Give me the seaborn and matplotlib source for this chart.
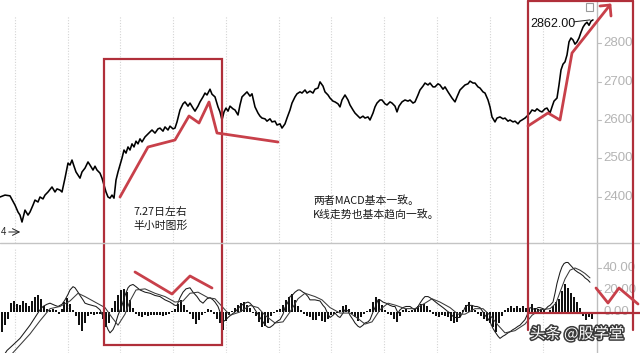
import matplotlib
matplotlib.use("Agg")
import matplotlib.pyplot as plt
import seaborn as sns
from matplotlib.patches import Rectangle
import matplotlib.patheffects as pe

sns.set_theme(style="white")
plt.rcParams['font.family'] = ['Noto Sans CJK SC', 'DejaVu Sans']

# ---------------- data ----------------
bar_idx = [0, 5, 10, 15, 18, 20, 22, 25, 28, 30,
           33, 35, 38, 40, 43, 45, 48, 52, 55, 57,
           60, 62, 65, 67, 68, 70, 72, 74, 76, 78,
           80, 82, 85, 88, 90, 93, 95, 97, 100, 102,
           104, 106, 108, 110, 112, 114, 116, 118, 120, 122,
           124, 126, 128, 130, 132, 134, 136, 138, 140, 142,
           145, 148, 150, 152, 155, 158, 160, 163, 165, 168,
           170, 173, 175, 177, 180, 183, 185, 188, 190, 193,
           195, 198, 200, 203, 205, 207, 210, 212, 215, 218,
           220, 222, 224, 226, 228, 230, 233, 235, 238, 240,
           242, 245, 247, 250, 252, 255, 258, 260, 262, 265,
           267, 270, 272, 275, 277, 280, 282, 285, 287, 290,
           292, 295, 297, 300, 302, 305, 307, 310, 313, 315,
           318, 320, 323, 325, 328, 330, 333, 335, 338, 340,
           342, 345, 348, 350, 353, 355, 358, 360, 363, 365,
           368, 370, 373, 375, 377, 380, 382, 385, 387, 390,
           392, 395, 397, 399, 402, 405, 408, 410, 413, 415,
           418, 420, 423, 425, 428, 430, 433, 435, 438, 440,
           443, 445, 448, 450, 452, 455, 457, 460, 463, 465,
           468, 470, 473, 475, 478, 480, 483, 485, 488, 490,
           492, 495, 497, 500, 503, 505, 508, 510, 513, 515,
           518, 520, 522, 525, 527, 530, 532, 535, 537, 540,
           542, 545, 547, 550, 552, 554, 557, 559, 561, 563,
           565, 567, 569, 571, 573, 575, 577, 579, 581, 583,
           585, 587, 589, 591, 593]
close = [2400, 2405, 2403, 2379, 2361, 2353, 2335, 2366, 2353, 2361,
         2379, 2392, 2387, 2400, 2395, 2405, 2413, 2426, 2413, 2421,
         2418, 2413, 2449, 2475, 2488, 2483, 2496, 2480, 2465, 2457,
         2449, 2465, 2475, 2491, 2483, 2470, 2480, 2470, 2462, 2449,
         2431, 2413, 2400, 2397, 2405, 2397, 2444, 2465, 2483, 2501,
         2522, 2514, 2530, 2522, 2538, 2530, 2545, 2538, 2551, 2543,
         2556, 2564, 2569, 2574, 2566, 2577, 2579, 2571, 2582, 2574,
         2584, 2577, 2579, 2595, 2626, 2642, 2647, 2636, 2644, 2631,
         2623, 2636, 2647, 2660, 2670, 2665, 2680, 2667, 2660, 2634,
         2621, 2600, 2621, 2631, 2623, 2636, 2629, 2626, 2613, 2639,
         2660, 2668, 2673, 2662, 2668, 2634, 2618, 2610, 2605, 2603,
         2597, 2603, 2595, 2597, 2587, 2590, 2579, 2590, 2605, 2626,
         2644, 2660, 2668, 2673, 2670, 2678, 2670, 2675, 2670, 2680,
         2683, 2699, 2688, 2673, 2665, 2657, 2649, 2647, 2642, 2634,
         2652, 2665, 2652, 2639, 2626, 2618, 2610, 2605, 2610, 2605,
         2608, 2600, 2618, 2634, 2644, 2652, 2652, 2642, 2639, 2647,
         2644, 2636, 2621, 2636, 2647, 2652, 2649, 2652, 2644, 2647,
         2665, 2678, 2688, 2696, 2691, 2696, 2686, 2686, 2694, 2691,
         2680, 2686, 2673, 2665, 2657, 2647, 2660, 2678, 2686, 2691,
         2694, 2701, 2696, 2696, 2686, 2683, 2673, 2670, 2652, 2634,
         2608, 2595, 2605, 2608, 2603, 2605, 2597, 2600, 2595, 2597,
         2590, 2597, 2600, 2605, 2610, 2618, 2626, 2623, 2629, 2623,
         2621, 2629, 2631, 2618, 2634, 2649, 2657, 2691, 2730, 2745,
         2751, 2769, 2803, 2813, 2808, 2797, 2803, 2813, 2828, 2841,
         2849, 2854, 2846, 2857, 2860]

dif_idx = [0, 7, 13, 20, 25, 30, 35, 40, 43, 47,
           50, 55, 58, 62, 65, 68, 70, 73, 75, 78,
           80, 83, 85, 88, 92, 96, 100, 103, 105, 108,
           110, 113, 115, 118, 122, 125, 128, 130, 133, 136,
           140, 145, 150, 155, 160, 165, 170, 175, 177, 180,
           183, 186, 190, 193, 197, 200, 203, 207, 210, 213,
           215, 218, 220, 223, 226, 228, 232, 235, 238, 240,
           243, 245, 248, 250, 253, 255, 258, 260, 263, 265,
           268, 270, 273, 275, 278, 280, 283, 285, 288, 290,
           293, 295, 298, 300, 303, 305, 308, 310, 315, 320,
           323, 325, 328, 330, 333, 335, 338, 340, 343, 345,
           348, 350, 353, 355, 358, 360, 363, 365, 368, 370,
           373, 375, 378, 380, 383, 386, 390, 393, 395, 398,
           400, 403, 406, 410, 413, 415, 418, 420, 423, 425,
           428, 430, 433, 437, 440, 443, 447, 450, 453, 455,
           458, 460, 463, 465, 467, 470, 472, 475, 477, 480,
           483, 485, 488, 490, 493, 495, 498, 500, 503, 505,
           508, 510, 513, 515, 518, 520, 523, 525, 528, 530,
           533, 535, 538, 540, 543, 545, 548, 550, 553, 555,
           557, 560, 562, 564, 566, 568, 570, 573, 575, 578,
           580, 583, 585, 588, 590]
dif = [-45, -35, -30, -24, -18, -12, -5, 2, 5, 7,
       8, 6, 5, 7, 11, 16, 20, 23, 22, 18,
       15, 11, 8, 7, 6, 5, 2, -4, -9, -16,
       -19, -16, -12, -3, 6, 15, 22, 24, 25, 23,
       20, 18, 17, 15, 14, 11, 9, 6, 6, 13,
       18, 21, 22, 18, 14, 10, 8, 12, 13, 11,
       9, 5, 0, -9, -7, -5, -2, 0, 3, 5,
       7, 8, 9, 8, 5, 2, -2, -5, -9, -12,
       -14, -14, -12, -10, -8, -7, -2, 4, 9, 14,
       16, 18, 20, 20, 18, 17, 14, 11, 11, 10,
       6, 4, -2, -5, -3, -1, -4, -5, -1, 2,
       1, -3, -7, -10, -13, -14, -12, -10, -9, -7,
       0, 4, 11, 11, 9, 8, 6, 5, 5, -1,
       2, 4, 5, 5, 3, 2, 5, 8, 12, 14,
       14, 13, 11, 8, 6, 4, 1, -1, -4, -5,
       -5, -5, 0, 4, 6, 6, 6, 5, 5, 4,
       0, -3, -6, -9, -15, -18, -22, -24, -22, -21,
       -19, -18, -16, -15, -13, -12, -9, -7, -1, 4,
       3, 2, 4, 4, 3, 2, 5, 6, 9, 17,
       26, 36, 41, 44, 45, 45, 43, 40, 38, 36,
       35, 33, 31, 29, 27]

dea_idx = [0, 10, 20, 30, 40, 50, 60, 70, 78, 85,
           95, 105, 112, 118, 125, 130, 136, 145, 155, 165,
           175, 183, 190, 198, 208, 215, 222, 230, 240, 250,
           258, 265, 275, 283, 290, 298, 305, 315, 322, 330,
           340, 350, 358, 365, 372, 380, 388, 396, 405, 415,
           425, 432, 440, 450, 458, 465, 475, 483, 490, 498,
           505, 515, 525, 532, 540, 550, 556, 560, 565, 570,
           575, 580, 585, 590]
dea = [-50, -40, -30, -20, -8, 3, 5, 10, 17, 14,
       9, 4, -5, -12, -2, 10, 20, 21, 17, 14,
       9, 10, 17, 18, 13, 12, 5, -3, 0, 6,
       4, -3, -10, -9, 0, 12, 17, 14, 11, 4,
       -1, -1, -6, -11, -9, 2, 8, 6, 3, 3,
       8, 12, 9, 4, -2, -2, 3, 3, -3, -12,
       -19, -17, -11, -3, 2, 3, 8, 18, 30, 38,
       40, 38, 35, 31]

hist_idx = [2, 5, 8, 11, 14, 17, 20, 23, 26, 29,
            32, 35, 38, 41, 44, 47, 50, 53, 56, 59,
            62, 64, 67, 70, 73, 76, 79, 82, 85, 88,
            91, 94, 97, 100, 103, 106, 109, 112, 115, 118,
            121, 124, 127, 130, 133, 136, 139, 142, 145, 148,
            151, 154, 157, 160, 163, 166, 169, 172, 175, 178,
            181, 184, 187, 190, 193, 196, 199, 202, 205, 208,
            211, 214, 217, 220, 223, 226, 229, 232, 235, 238,
            241, 244, 247, 250, 253, 256, 259, 262, 265, 268,
            271, 274, 277, 280, 283, 286, 289, 292, 295, 298,
            301, 304, 307, 310, 313, 316, 319, 322, 325, 328,
            331, 334, 337, 340, 343, 346, 349, 352, 355, 358,
            361, 364, 367, 370, 373, 376, 379, 382, 385, 388,
            391, 394, 397, 400, 403, 406, 409, 412, 415, 418,
            421, 424, 427, 430, 433, 436, 439, 442, 445, 448,
            451, 454, 457, 460, 463, 466, 469, 472, 475, 478,
            481, 484, 487, 490, 493, 496, 499, 502, 505, 508,
            511, 514, 517, 520, 523, 526, 529, 532, 535, 538,
            541, 544, 547, 550, 553, 556, 559, 562, 565, 568,
            571, 574, 577, 580, 583, 586, 589, 592]
hist = [-18, -12, -6, 8, 10, 7, 6, 10, 8, 5,
        10, 14, 15, 12, 5, 3, 2, 3, 2, -2,
        3, 9, 13, 7, 2, -4, -12, -17, -10, -4,
        -2, -3, -2, -2, -6, -14, -10, 4, 10, 15,
        20, 21, 18, 11, 4, -2, -4, -5, -3, -4,
        -3, -3, -3, -3, -4, -3, -2, 1, 3, 7,
        11, 6, 2, -2, -6, -11, -7, -3, -1, 3,
        2, -2, -6, -10, -16, -8, -3, 1, 4, 6,
        8, 9, 6, 4, -1, -4, -9, -14, -13, -10,
        -4, -1, 2, 3, 6, 11, 14, 16, 11, 5,
        2, -2, -4, -5, -7, -7, -4, -8, -9, -6,
        -3, -2, -1, 2, 5, 6, 3, -2, -5, -8,
        -5, -2, 1, 3, 9, 14, 12, 6, 2, -2,
        -3, -6, -9, -4, 2, 3, 1, 2, 3, 5,
        7, 7, 5, 2, -2, -4, -5, -3, -4, -5,
        -8, -10, -9, -5, 2, 6, 9, 5, 2, -2,
        -4, -6, -8, -10, -14, -18, -10, -4, 2, 4,
        5, 4, 5, 4, 5, 4, 3, 7, 4, 3,
        3, 2, -1, 2, 5, 9, 12, 19, 25, 22,
        17, 14, 9, 4, -4, -7, -5, -6]

grid_idx = [15, 68, 120, 173, 226, 279, 331, 384, 437, 490, 543]
price_ticks = [2800, 2700, 2600, 2500, 2400]
macd_ticks = [40, 20, 0]
macd_tick_labels = ["40.00", "20.00", "0.00"]
peak_label = "2862.00"
note_left = ["7.27日左右", "半小时图形"]
note_mid = ["两者MACD基本一致。", "K线走势也基本趋向一致。"]
watermark = "头条 @股学堂"

# ---------------- figure ----------------
W, H = 640, 353
fig = plt.figure(figsize=(W / 100, H / 100), dpi=100)
fig.patch.set_facecolor("white")

ax_p = fig.add_axes([0, 1 - 243 / H, 1, 243 / H])
ax_m = fig.add_axes([0, 0, 1, 110 / H])
for ax in (ax_p, ax_m):
    ax.set_xlim(0, W)
    ax.set_axis_off()
ax_p.set_ylim(2280.5, 2911.7)
ax_m.set_ylim(-37.3, 62.7)

grid_kw = dict(color="#d4d4d4", lw=0.8, ls=(0, (1, 1.5)), zorder=0)
for g in grid_idx:
    ax_p.axvline(g, ymin=0, ymax=1 - 16 / 243, **grid_kw)
    ax_m.axvline(g, ymin=0, ymax=1 - 6 / 110, **grid_kw)

# price line
sns.lineplot(x=bar_idx, y=close, ax=ax_p, color="black", lw=1.15,
             legend=False, zorder=3)

# MACD
ax_m.bar(hist_idx, hist, width=2.4, color="#111111", lw=0, zorder=2)
sns.lineplot(x=dif_idx, y=dif, ax=ax_m, color="#1a1a1a", lw=0.75,
             legend=False, zorder=3)
sns.lineplot(x=dea_idx, y=dea, ax=ax_m, color="#3a3a3a", lw=0.75,
             legend=False, zorder=3)

# right axis
axis_x = 596.5
for ax in (ax_p, ax_m):
    ax.axvline(axis_x, color="#bdbdbd", lw=1.0, zorder=1)

clip_p = Rectangle((598, 2200), 33, 900, transform=ax_p.transData)
for v in price_ticks:
    ax_p.plot([axis_x, axis_x + 4], [v, v], color="#bdbdbd", lw=0.8)
    t = ax_p.text(603, v, f"{v}", va="center", ha="left", fontsize=9.5,
                  color="#b4b4b4", family="Liberation Sans")
    t.set_clip_path(clip_p)
clip_m = Rectangle((598, -50), 33, 150, transform=ax_m.transData)
for v, lab in zip(macd_ticks, macd_tick_labels):
    ax_m.plot([axis_x, axis_x + 4], [v, v], color="#bdbdbd", lw=0.8)
    t = ax_m.text(603, v, lab, va="center", ha="left", fontsize=9.5,
                  color="#b4b4b4", family="Liberation Sans")
    t.set_clip_path(clip_m)

# peak label
ax_p.text(530, 2849, peak_label, va="center", ha="left", fontsize=9,
          color="#111111", family="Liberation Sans")
ax_p.plot([574, 590], [2855, 2860], color="#222222", lw=0.7)

# ---------------- overlay annotations ----------------
ov = fig.add_axes([0, 0, 1, 1], zorder=10)
ov.set_xlim(0, W)
ov.set_ylim(H, 0)
ov.set_axis_off()
ov.patch.set_alpha(0)

# panel divider
ov.plot([0, W], [243, 243], color="#c4c4c4", lw=1.0)

# small icon
ov.add_patch(Rectangle((586, 3), 7, 8, fill=False, ec="#9a9a9a", lw=0.8))

# "4 ->" marker at left
ov.text(0.5, 232, "4", fontsize=7, va="center", ha="left", color="#222222",
        family="Liberation Sans")
ov.annotate("", xy=(23, 232), xytext=(6, 232),
            arrowprops=dict(arrowstyle="->", lw=0.7, color="#222222"))

box_red = "#b02f3a"
line_red = "#c8404a"

# left box
ov.add_patch(Rectangle((104, 59), 118, 286, fill=False, ec=box_red, lw=1.6))
# right box
ov.plot([528, 528], [0.8, 330], color=box_red, lw=1.6)
ov.plot([633, 633], [0.8, 330], color=box_red, lw=1.6)
ov.plot([528, 633], [0.8, 0.8], color=box_red, lw=1.6)
ov.plot([528, 640], [313, 313], color=box_red, lw=1.6)

zig_a = [(120, 197), (148, 147), (175, 140), (189, 116), (199, 123),
         (209, 102), (217, 133), (278, 142)]
zig_b = [(135, 272), (172, 294), (190, 276), (212, 288)]
zig_c = [(528, 126), (548, 113), (560, 120), (572, 53), (610, 5)]
zig_d = [(596, 288), (608, 303), (619, 288), (638, 304)]
head = [(600, 6), (610, 5), (611, 16)]
for pts in (zig_a, zig_b, zig_c, zig_d, head):
    ov.plot([p[0] for p in pts], [p[1] for p in pts], color=line_red,
            lw=2.0, solid_capstyle="round", solid_joinstyle="round")

# notes
ov.text(133, 212, note_left[0], fontsize=7.8, va="center", ha="left",
        color="#1a1a1a")
ov.text(133, 226, note_left[1], fontsize=7.8, va="center", ha="left",
        color="#1a1a1a")
ov.text(313, 201, note_mid[0], fontsize=7.8, va="center", ha="left",
        color="#1a1a1a")
ov.text(313, 214, note_mid[1], fontsize=7.8, va="center", ha="left",
        color="#1a1a1a")

ov.text(530, 334, watermark, fontsize=11, va="center", ha="left",
        color="white",
        path_effects=[pe.withStroke(linewidth=2.2, foreground="#3a3a3a")])

fig.savefig("out.png", dpi=100, facecolor="white")
